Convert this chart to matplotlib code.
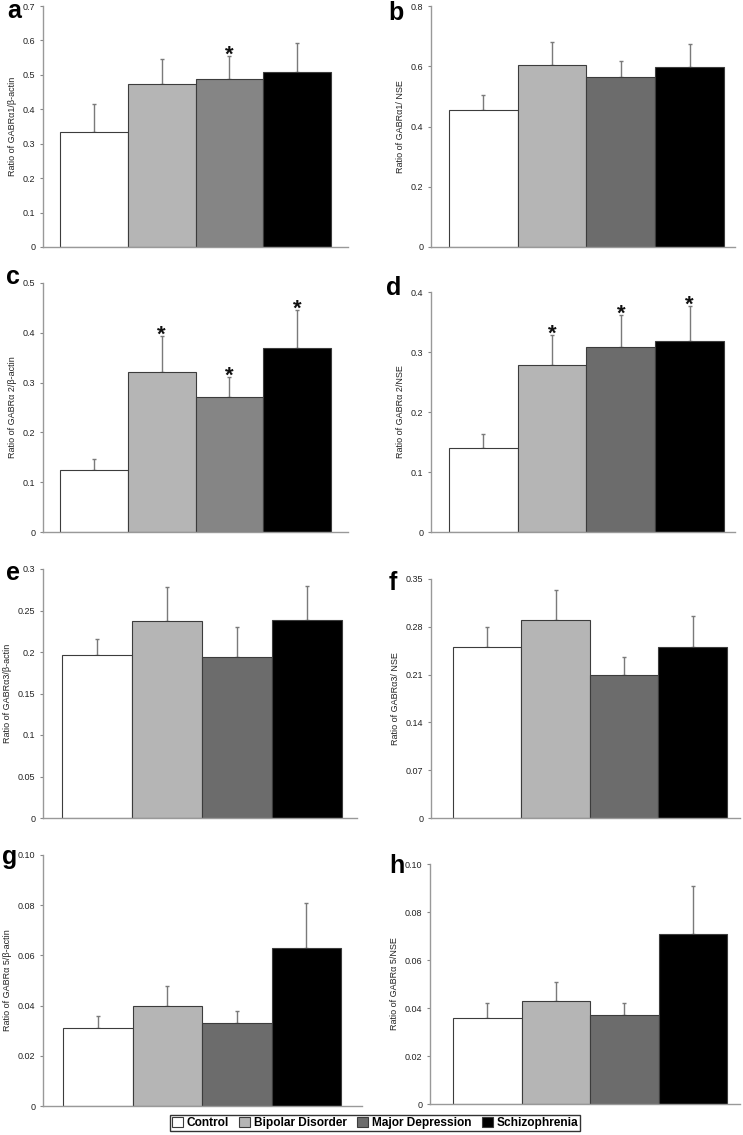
import matplotlib
matplotlib.use("Agg")
import matplotlib.pyplot as plt
from matplotlib.patches import Patch

plt.rcParams["font.family"] = ["Liberation Sans", "DejaVu Sans"]

groups = ["Control", "Bipolar Disorder", "Major Depression", "Schizophrenia"]
panel_letters = ["a", "b", "c", "d", "e", "f", "g", "h"]
ylabels = [
    "Ratio of GABR\u03b11/\u03b2-actin",
    "Ratio of GABR\u03b11/ NSE",
    "Ratio of GABR\u03b1 2/\u03b2-actin",
    "Ratio of GABR\u03b1 2/NSE",
    "Ratio of GABR\u03b13/\u03b2-actin",
    "Ratio of GABR\u03b13/ NSE",
    "Ratio of GABR\u03b1 5/\u03b2-actin",
    "Ratio of GABR\u03b1 5/NSE",
]
# bar means per panel (Control, BD, MD, SZ)
means = [
    [0.333, 0.474, 0.488, 0.508],
    [0.454, 0.604, 0.563, 0.596],
    [0.125, 0.321, 0.271, 0.370],
    [0.140, 0.279, 0.309, 0.319],
    [0.196, 0.237, 0.194, 0.239],
    [0.250, 0.290, 0.210, 0.250],
    [0.031, 0.040, 0.033, 0.063],
    [0.036, 0.043, 0.037, 0.071],
]
# upper end of the error bars
err_top = [
    [0.415, 0.546, 0.555, 0.592],
    [0.504, 0.681, 0.617, 0.674],
    [0.147, 0.393, 0.311, 0.445],
    [0.164, 0.328, 0.361, 0.376],
    [0.216, 0.278, 0.230, 0.280],
    [0.279, 0.334, 0.236, 0.296],
    [0.036, 0.048, 0.038, 0.081],
    [0.042, 0.051, 0.042, 0.091],
]
# which bars carry a significance star
stars = [
    [False, False, True, False],
    [False, False, False, False],
    [False, True, True, True],
    [False, True, True, True],
    [False, False, False, False],
    [False, False, False, False],
    [False, False, False, False],
    [False, False, False, False],
]
yticks = [
    [0, 0.1, 0.2, 0.3, 0.4, 0.5, 0.6, 0.7],
    [0, 0.2, 0.4, 0.6, 0.8],
    [0, 0.1, 0.2, 0.3, 0.4, 0.5],
    [0, 0.1, 0.2, 0.3, 0.4],
    [0, 0.05, 0.1, 0.15, 0.2, 0.25, 0.3],
    [0, 0.07, 0.14, 0.21, 0.28, 0.35],
    [0, 0.02, 0.04, 0.06, 0.08, 0.10],
    [0, 0.02, 0.04, 0.06, 0.08, 0.10],
]
ytick_labels = [
    ["0", "0.1", "0.2", "0.3", "0.4", "0.5", "0.6", "0.7"],
    ["0", "0.2", "0.4", "0.6", "0.8"],
    ["0", "0.1", "0.2", "0.3", "0.4", "0.5"],
    ["0", "0.1", "0.2", "0.3", "0.4"],
    ["0", "0.05", "0.1", "0.15", "0.2", "0.25", "0.3"],
    ["0", "0.07", "0.14", "0.21", "0.28", "0.35"],
    ["0", "0.02", "0.04", "0.06", "0.08", "0.10"],
    ["0", "0.02", "0.04", "0.06", "0.08", "0.10"],
]

W, H = 743, 1135
# axes boxes in pixels: left, right, top, bottom
boxes = [
    (43, 348, 6, 247), (431, 735, 6, 247),
    (43, 348, 283, 532), (431, 735, 292, 532),
    (43, 357, 569, 818), (431, 740, 579, 818),
    (43, 362, 855, 1106), (430, 740, 864, 1104),
]
xlims = [
    (-0.75, 3.75), (-0.76, 3.66),
    (-0.75, 3.75), (-0.76, 3.66),
    (-0.77, 3.71), (-0.82, 3.69),
    (-0.79, 3.80), (-0.84, 3.69),
]
letter_pos = [(14, 11), (396, 13), (13, 277), (394, 288),
              (13, 573), (393, 583), (10, 857), (397, 866)]

md_shade = ["#858585", "#6c6c6c", "#858585", "#6c6c6c",
            "#6c6c6c", "#6c6c6c", "#6c6c6c", "#6c6c6c"]

fig = plt.figure(figsize=(W / 100, H / 100), dpi=100)
x = list(range(len(groups)))

for i in range(8):
    l, r, t, b = boxes[i]
    ax = fig.add_axes([l / W, 1 - b / H, (r - l) / W, (b - t) / H])
    colors = ["white", "#b5b5b5", md_shade[i], "black"]
    ax.bar(x, means[i], width=1.0, color=colors, edgecolor="#3c3c3c",
           linewidth=0.8, zorder=2)
    up = [e - m for e, m in zip(err_top[i], means[i])]
    ax.errorbar(x, means[i], yerr=[[0] * 4, up], fmt="none", ecolor="#7a7a7a",
                elinewidth=1.0, capsize=1.5, capthick=1.0, zorder=1)
    for j in range(4):
        if stars[i][j]:
            ax.annotate("*", (x[j], err_top[i][j]), xytext=(0, -7),
                        textcoords="offset points", ha="center", va="bottom",
                        fontsize=16, fontweight="bold", color="#111111")
    ax.set_xlim(*xlims[i])
    ax.set_ylim(0, yticks[i][-1])
    ax.set_yticks(yticks[i])
    ax.set_yticklabels(ytick_labels[i])
    ax.set_xticks([])
    ax.tick_params(axis="y", length=2.5, width=0.8, color="#888888",
                   labelsize=6.5, pad=3, labelcolor="#222222")
    for s in ["top", "right"]:
        ax.spines[s].set_visible(False)
    for s in ["left", "bottom"]:
        ax.spines[s].set_color("#999999")
        ax.spines[s].set_linewidth(1.0)
    ax.set_ylabel(ylabels[i], fontsize=6.5, color="#222222", labelpad=4)
    ax.set_facecolor("none")
    fig.text(letter_pos[i][0] / W, 1 - letter_pos[i][1] / H, panel_letters[i],
             fontsize=18, fontweight="bold", ha="center", va="center")

handles = [Patch(facecolor=c, edgecolor="#3c3c3c", linewidth=0.8)
           for c in ["white", "#b5b5b5", "#6c6c6c", "black"]]
leg = fig.legend(handles, groups, loc="center", bbox_to_anchor=(375 / W, 1 - 1123 / H),
                 ncol=4, frameon=True, fancybox=False, edgecolor="black",
                 prop={"weight": "bold", "size": 8.6}, handlelength=0.9,
                 handleheight=0.9, handletextpad=0.3, columnspacing=0.9,
                 borderpad=0.2)
leg.get_frame().set_linewidth(1.0)

fig.savefig("out.png", dpi=100, facecolor="white")
